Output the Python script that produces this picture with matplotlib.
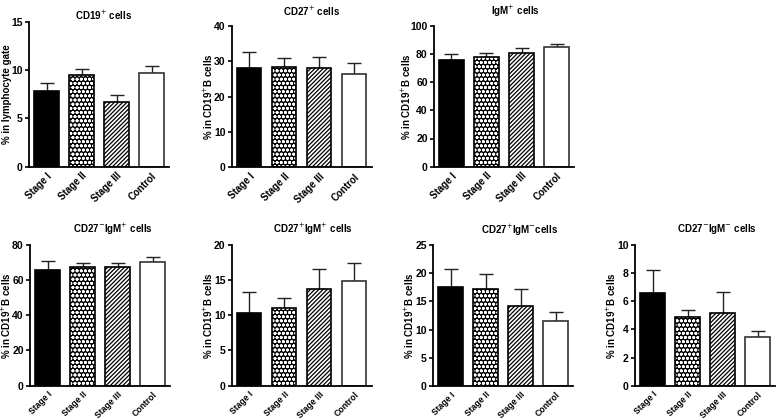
import matplotlib
matplotlib.use("Agg")
import matplotlib.pyplot as plt
import numpy as np

plt.rcParams['font.family'] = ['Liberation Sans', 'DejaVu Sans']
plt.rcParams['hatch.linewidth'] = 0.9

groups = ["Stage I", "Stage II", "Stage III", "Control"]

# panel titles / y labels / limits
titles = ["CD19$^{+}$ cells", "CD27$^{+}$ cells", "IgM$^{+}$ cells",
          "CD27$^{-}$IgM$^{+}$ cells", "CD27$^{+}$IgM$^{+}$ cells",
          "CD27$^{+}$IgM$^{-}$cells", "CD27$^{-}$IgM$^{-}$ cells"]
ylabels = ["% in lymphocyte gate"] + ["% in CD19$^{+}$B cells"] * 6
ymax = [15, 40, 100, 80, 20, 25, 10]
ystep = [5, 10, 20, 20, 5, 5, 2]

# mean values and upper SEM per group
means = [
    [7.86, 9.45, 6.69, 9.66],
    [27.95, 28.2, 27.95, 26.35],
    [75.7, 77.8, 80.9, 84.9],
    [65.4, 67.1, 67.1, 70.0],
    [10.26, 10.97, 13.66, 14.85],
    [17.6, 17.2, 14.16, 11.5],
    [6.55, 4.85, 5.13, 3.48],
]
errs = [
    [0.76, 0.62, 0.76, 0.79],
    [4.65, 2.8, 3.25, 3.2],
    [4.0, 3.1, 3.0, 1.9],
    [5.1, 2.7, 2.7, 3.2],
    [2.98, 1.42, 2.84, 2.5],
    [3.1, 2.65, 3.04, 1.7],
    [1.65, 0.49, 1.49, 0.37],
]

W, H = 777, 420
fig = plt.figure(figsize=(W / 100, H / 100), dpi=100)

# axes boxes in pixels: left, top, bottom
lefts = [29, 231.7, 434, 30, 231.7, 433, 635]
tops = [21.7, 25.7, 25.7, 244.7, 244.7, 245, 244.7]
bots = [166.7, 167.3, 166.7, 385.7, 385.7, 386, 385.7]
title_x = [104, 312, 515, 113, 313, 520, 717]
title_y = [15, 11, 11, 229, 229, 230.5, 229]
axw = 140

x = np.arange(len(groups))
bw = 0.7

for k in range(7):
    lx, top, bot = lefts[k], tops[k], bots[k]
    ax = fig.add_axes([lx / W, 1 - bot / H, axw / W, (bot - top) / H])
    m = means[k]
    e = errs[k]

    ax.errorbar(x, m, yerr=[np.zeros(4), e], fmt='none', ecolor='#222222',
                elinewidth=1.0, capsize=5, capthick=1.0, zorder=1)

    # Stage I - solid black
    ax.bar(x[0], m[0], bw, color='black', edgecolor='black', lw=1.2, zorder=2)
    # Stage II - checker-like pattern: black face, white dots
    ax.bar(x[1], m[1], bw, color='black', edgecolor='white', hatch='oooo', lw=0, zorder=2)
    ax.bar(x[1], m[1], bw, fill=False, edgecolor='black', lw=1.2, zorder=3)
    # Stage III - dense diagonals
    ax.bar(x[2], m[2], bw, color='white', edgecolor='black', hatch='////////', lw=0, zorder=2)
    ax.bar(x[2], m[2], bw, fill=False, edgecolor='black', lw=1.2, zorder=3)
    # Control - open bar
    ax.bar(x[3], m[3], bw, color='white', edgecolor='#333333', lw=1.2, zorder=2)

    ax.set_xlim(-0.5, 3.5)
    ax.set_ylim(0, ymax[k])
    ax.set_yticks(np.arange(0, ymax[k] + 0.1, ystep[k]))
    ax.set_xticks(x)
    fs_x = 7 if k < 3 else 6.2
    ax.set_xticklabels(groups, rotation=45, ha='right', rotation_mode='anchor',
                       fontsize=fs_x, fontweight='bold')
    for lab in ax.get_yticklabels():
        lab.set_fontsize(7.5)
        lab.set_fontweight('bold')
    ax.tick_params(axis='both', length=3, width=1.2, pad=1.5)
    ax.tick_params(axis='x', length=0, pad=3)
    for s in ['top', 'right']:
        ax.spines[s].set_visible(False)
    for s in ['left', 'bottom']:
        ax.spines[s].set_linewidth(1.3)

    # y label: right edge ~17 px left of the axis (21 px when ticks have 3 digits)
    off = 21 if ymax[k] >= 100 else 17
    ax.set_ylabel(ylabels[k], fontsize=7, fontweight='bold')
    ax.yaxis.set_label_coords(-off / axw, 0.5)

    fig.text(title_x[k] / W, 1 - title_y[k] / H, titles[k], fontsize=7,
             fontweight='bold', ha='center', va='center')

fig.savefig("out.png", dpi=100)
